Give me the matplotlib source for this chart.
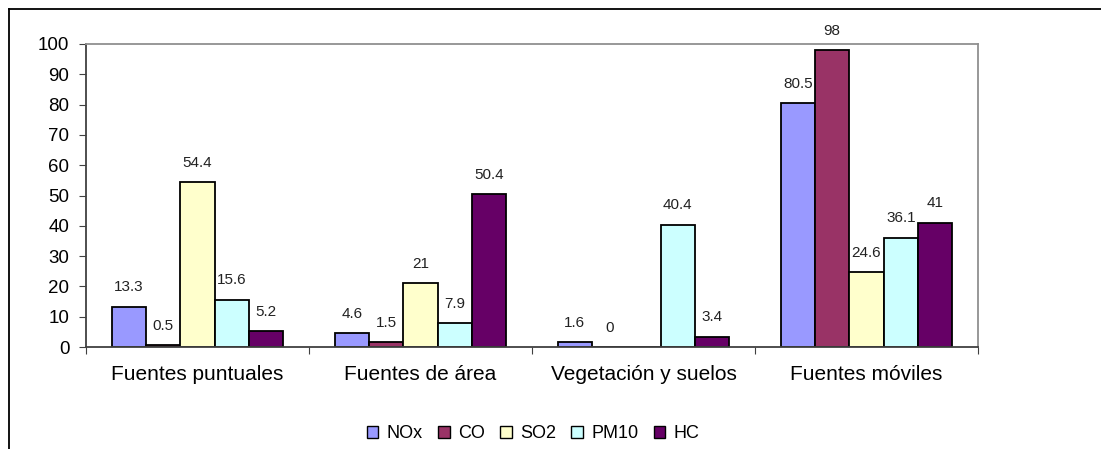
import matplotlib
matplotlib.use("Agg")
import matplotlib.pyplot as plt
import numpy as np
from matplotlib.patches import Patch
from matplotlib.lines import Line2D

categories = ["Fuentes puntuales", "Fuentes de área", "Vegetación y suelos", "Fuentes móviles"]
series = ["NOx", "CO", "SO2", "PM10", "HC"]
nox = [13.3, 4.6, 1.6, 80.5]
co = [0.5, 1.5, 0, 98]
so2 = [54.4, 21, np.nan, 24.6]
pm10 = [15.6, 7.9, 40.4, 36.1]
hc = [5.2, 50.4, 3.4, 41]
values = [nox, co, so2, pm10, hc]
colors = ["#9999FF", "#993366", "#FFFFCC", "#CCFFFF", "#660066"]
yticks = [0, 10, 20, 30, 40, 50, 60, 70, 80, 90, 100]

plt.rcParams['font.family'] = ['Liberation Sans', 'DejaVu Sans']

W, H = 1101, 449
fig = plt.figure(figsize=(W/100, H/100), dpi=100)
ax = fig.add_axes([86/W, 1-347/H, (978-86)/W, (347-44)/H])

w = 1/6.5
x = np.arange(len(categories))
for j, (s, vals, c) in enumerate(zip(series, values, colors)):
    pos = x + (j-2)*w
    v = np.array(vals, dtype=float)
    ax.bar(pos, np.nan_to_num(v), width=w, color=c, edgecolor='black', linewidth=1.3, label=s)
    for p, val in zip(pos, v):
        if np.isnan(val):
            continue
        txt = f"{val:g}"
        ax.annotate(txt, (p, val), xytext=(0, 9), textcoords='offset points',
                    ha='center', va='bottom', fontsize=11, color='#222222')

ax.set_xlim(-0.5, 3.5)
ax.set_ylim(0, 100)
ax.set_yticks(yticks)
ax.set_yticklabels([str(t) for t in yticks], fontsize=13.5)
ax.set_xticks(np.arange(-0.5, 4.0, 1.0))
ax.set_xticklabels([])
ax.set_xticks(x, minor=True)
ax.set_xticklabels(categories, minor=True, fontsize=15)
ax.tick_params(axis='x', which='minor', length=0, pad=13)
ax.tick_params(axis='x', which='major', length=5, direction='out', color='#404040')
ax.tick_params(axis='y', length=5, direction='out', color='#404040', pad=7)
for side in ['top', 'right']:
    ax.spines[side].set_color('#909090')
    ax.spines[side].set_linewidth(1.3)
for side in ['left', 'bottom']:
    ax.spines[side].set_color('#404040')
    ax.spines[side].set_linewidth(1.3)

# outer chart border
fig.add_artist(Line2D([9/W, 1.0], [1-9/H, 1-9/H], color='black', linewidth=1.3, transform=fig.transFigure))
fig.add_artist(Line2D([9/W, 9/W], [1-9/H, 0], color='black', linewidth=1.3, transform=fig.transFigure))

handles = [Patch(facecolor=c, edgecolor='black', linewidth=1.0, label=s) for s, c in zip(series, colors)]
fig.legend(handles=handles, loc='center', bbox_to_anchor=(533/W, 1-434/H), ncol=5, frameon=False,
           fontsize=13, handlelength=0.65, handleheight=0.65, handletextpad=0.45, columnspacing=0.85,
           borderaxespad=0)

fig.savefig("out.png", dpi=100)
